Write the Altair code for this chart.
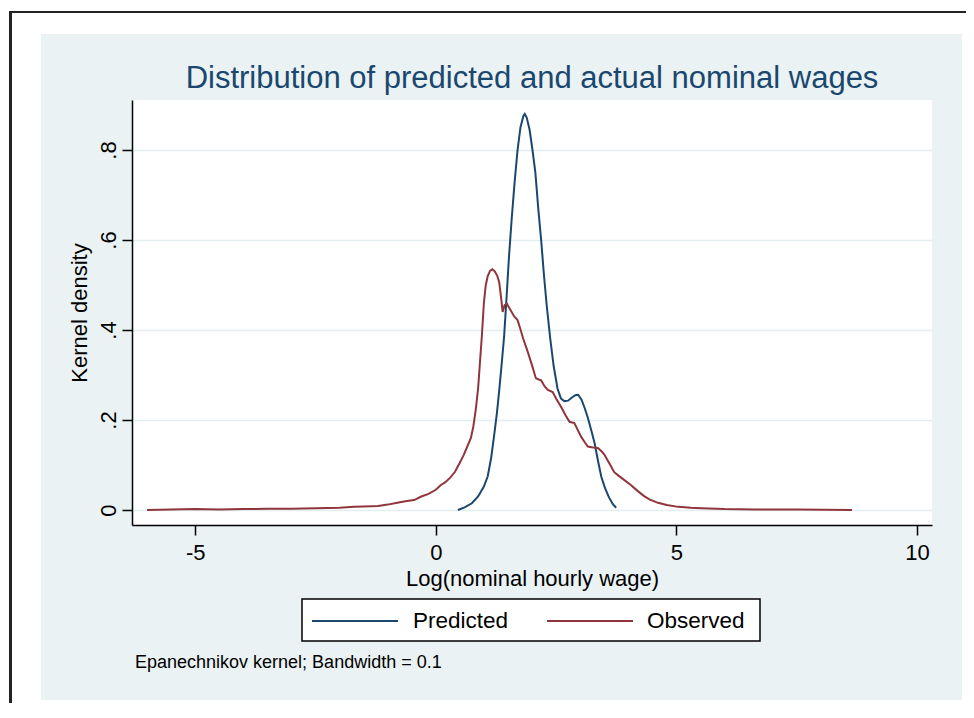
import altair as alt
import pandas as pd

# ---------------- data ----------------
pred_x = [0.46, 0.6, 0.75, 0.88, 1.0, 1.08, 1.15, 1.21, 1.27, 1.32, 1.37, 1.42, 1.47,
          1.52, 1.58, 1.64, 1.70, 1.76, 1.82, 1.85, 1.89, 1.95, 2.01, 2.07, 2.13, 2.19,
          2.25, 2.31, 2.38, 2.45, 2.53, 2.60, 2.67, 2.75, 2.83, 2.90, 2.96, 3.03, 3.10,
          3.16, 3.23, 3.30, 3.37, 3.44, 3.52, 3.60, 3.68, 3.75]
pred_y = [0.0, 0.006, 0.015, 0.03, 0.052, 0.075, 0.115, 0.163, 0.215, 0.267, 0.325, 0.385, 0.47,
          0.56, 0.65, 0.73, 0.80, 0.85, 0.875, 0.88, 0.872, 0.845, 0.80, 0.75, 0.67, 0.60,
          0.52, 0.45, 0.38, 0.32, 0.27, 0.248, 0.242, 0.243, 0.25, 0.255, 0.256, 0.245, 0.225,
          0.205, 0.178, 0.149, 0.11, 0.074, 0.048, 0.028, 0.013, 0.005]

obs_x = [-6.0, -5.5, -5.0, -4.5, -4.0, -3.5, -3.0, -2.5, -2.0, -1.7, -1.5, -1.2, -1.0, -0.8,
         -0.6, -0.45, -0.3, -0.15, 0.0, 0.1, 0.2, 0.3, 0.4, 0.5, 0.58, 0.65, 0.73, 0.78,
         0.83, 0.88, 0.92, 0.96, 1.0, 1.04, 1.08, 1.13, 1.18, 1.23, 1.28, 1.32, 1.36, 1.39,
         1.43, 1.48, 1.55, 1.63, 1.70, 1.75, 1.82, 1.91, 2.0, 2.08, 2.14, 2.19, 2.26, 2.33,
         2.43, 2.50, 2.60, 2.70, 2.78, 2.88, 2.95, 3.02, 3.10, 3.16, 3.27, 3.37, 3.45, 3.5,
         3.6, 3.71, 3.79, 3.9, 4.06, 4.2, 4.33, 4.45, 4.62, 4.8, 5.04, 5.3, 5.52, 6.0, 6.63,
         7.5, 8.65]
obs_y = [0.0, 0.001, 0.002, 0.001, 0.002, 0.003, 0.003, 0.004, 0.005, 0.007, 0.008, 0.009,
         0.012, 0.016, 0.02, 0.022, 0.03, 0.036, 0.045, 0.055, 0.062, 0.072, 0.085, 0.105,
         0.122, 0.14, 0.16, 0.185, 0.222, 0.27, 0.33, 0.39, 0.46, 0.5, 0.52, 0.532, 0.535,
         0.53, 0.52, 0.505, 0.47, 0.44, 0.455, 0.458, 0.445, 0.43, 0.422, 0.405, 0.38, 0.352,
         0.322, 0.293, 0.29, 0.288, 0.275, 0.267, 0.262, 0.248, 0.23, 0.21, 0.196, 0.193,
         0.178, 0.163, 0.15, 0.141, 0.139, 0.138, 0.13, 0.124, 0.105, 0.084, 0.077, 0.068,
         0.055, 0.042, 0.031, 0.023, 0.016, 0.011, 0.007, 0.005, 0.004, 0.002, 0.001, 0.001,
         0.0]

x_ticks = [-5, 0, 5, 10]
y_ticks = [0, 0.2, 0.4, 0.6, 0.8]
series_names = ["Predicted", "Observed"]
series_colors = ["#1a476f", "#90353b"]
title_text = "Distribution of predicted and actual nominal wages"
note_text = "Epanechnikov kernel; Bandwidth = 0.1"
x_title = "Log(nominal hourly wage)"
y_title = "Kernel density"

# ---------------- layout / style ----------------
W, H = 800, 425
FONT = "Liberation Sans"
X_DOMAIN = [-6.3125, 10.3125]
Y_DOMAIN = [-0.0333, 0.9111]
PANEL_BG = "#EAF2F3"

df = pd.concat([
    pd.DataFrame({"x": pred_x, "y": pred_y, "series": series_names[0]}),
    pd.DataFrame({"x": obs_x, "y": obs_y, "series": series_names[1]}),
], ignore_index=True)

xscale = alt.Scale(domain=X_DOMAIN, nice=False, zero=False)
yscale = alt.Scale(domain=Y_DOMAIN, nice=False, zero=False)

dummy = alt.Data(values=[{"k": 1}])


def box(x1, x2, y1, y2, color):
    return alt.Chart(dummy).mark_rect(color=color).encode(
        x=alt.value(x1), x2=alt.value(x2), y=alt.value(y1), y2=alt.value(y2))


# white page margins around the light panel (panel colour is the chart background)
margins = [
    box(-124, 840, -92, -66, "white"),
    box(-124, -91, -92, 610, "white"),
    box(830, 840, -92, 610, "white"),
    box(-124, 840, 600, 610, "white"),
]
# frame lines of the surrounding figure box
frame = [
    box(-123, 834, -89, -87, "#222222"),
    box(-123, -120, -89, 603, "#222222"),
]

lines = alt.Chart(df).mark_line(strokeWidth=2).encode(
    x=alt.X("x:Q", scale=xscale,
            axis=alt.Axis(values=x_ticks, title=x_title, grid=False,
                          labelExpr="datum.value + ''",
                          labelBaseline="top", labelPadding=7,
                          titleX=W / 2, titleY=60, titleBaseline="alphabetic",
                          titleAlign="center")),
    y=alt.Y("y:Q", scale=yscale,
            axis=alt.Axis(values=y_ticks, title=y_title,
                          labelAngle=270, labelAlign="center",
                          labelBaseline="alphabetic", labelPadding=7,
                          labelExpr="datum.value == 0 ? '0' : replace(format(datum.value, '.1f'), '0.', '.')",
                          titleAngle=270, titleX=-46, titleY=H / 2,
                          titleBaseline="alphabetic", titleAlign="center")),
    color=alt.Color("series:N",
                    scale=alt.Scale(domain=series_names, range=series_colors),
                    legend=None),
    detail="series:N",
    order=alt.Order("x:Q"),
)

title = alt.Chart(dummy).mark_text(
    text=title_text, font=FONT, fontSize=31, color="#1a476f",
    align="center", baseline="alphabetic").encode(
    x=alt.value(W / 2), y=alt.value(-12))

note = alt.Chart(dummy).mark_text(
    text=note_text, font=FONT, fontSize=18, color="black",
    align="left", baseline="alphabetic").encode(
    x=alt.value(3), y=alt.value(568))

# legend box drawn by hand (Stata style: long line keys, framed)
LEG_Y = 521
legend_box = alt.Chart(dummy).mark_rect(fill="white", stroke="black", strokeWidth=1.5).encode(
    x=alt.value(170), x2=alt.value(628), y=alt.value(499), y2=alt.value(541))
legend_keys = [
    alt.Chart(dummy).mark_rule(color=series_colors[0], strokeWidth=2).encode(
        x=alt.value(180), x2=alt.value(266), y=alt.value(LEG_Y)),
    alt.Chart(dummy).mark_rule(color=series_colors[1], strokeWidth=2).encode(
        x=alt.value(415), x2=alt.value(501), y=alt.value(LEG_Y)),
]
legend_labels = [
    alt.Chart(dummy).mark_text(text=series_names[0], font=FONT, fontSize=22.5, color="black",
                               align="left", baseline="middle").encode(
        x=alt.value(281), y=alt.value(LEG_Y)),
    alt.Chart(dummy).mark_text(text=series_names[1], font=FONT, fontSize=22.5, color="black",
                               align="left", baseline="middle").encode(
        x=alt.value(515), y=alt.value(LEG_Y)),
]

chart = alt.layer(
    lines, *margins, *frame, title, note, legend_box, *legend_keys, *legend_labels
).properties(
    width=W, height=H,
    padding={"left": 124, "top": 92, "right": 34, "bottom": 178},
    autosize=alt.AutoSizeParams(type="none"),
).configure(
    background=PANEL_BG,
).configure_view(
    stroke=None, fill="white",
).configure_axis(
    domainColor="black", domainWidth=1.5, tickColor="black", tickWidth=1.5, tickSize=10,
    labelFont=FONT, labelFontSize=22, labelColor="black",
    titleFont=FONT, titleFontSize=22, titleColor="black", titleFontWeight="normal",
    gridColor="#E4EDEF", gridWidth=1.5,
)

chart.save("out.html", embed_options={"renderer": "svg", "actions": False})
